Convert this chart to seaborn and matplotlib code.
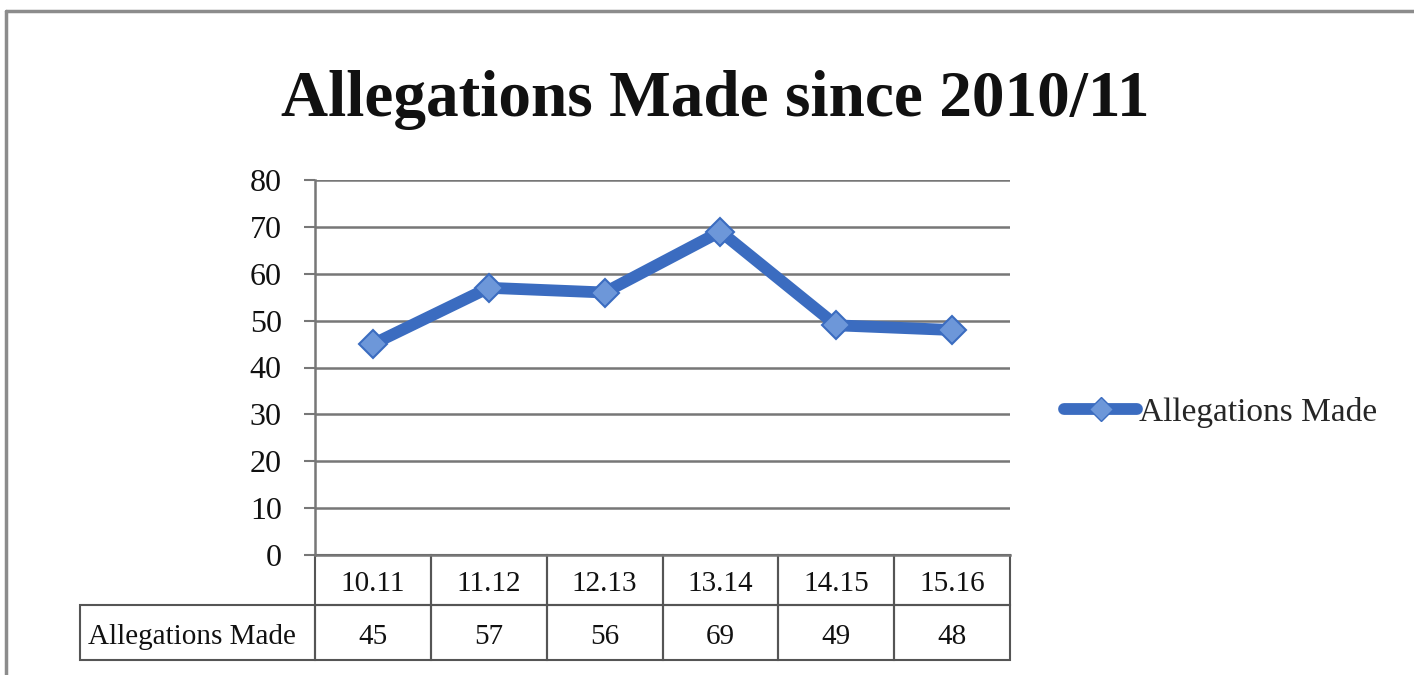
import matplotlib
matplotlib.use("Agg")
import matplotlib.pyplot as plt
import matplotlib.transforms as mtransforms
import seaborn as sns
import pandas as pd
from matplotlib.patches import Rectangle
from matplotlib.lines import Line2D

categories = ["10.11", "11.12", "12.13", "13.14", "14.15", "15.16"]
allegations = [45, 57, 56, 69, 49, 48]
series_name = "Allegations Made"
title = "Allegations Made since 2010/11"
yticks = [0, 10, 20, 30, 40, 50, 60, 70, 80]

sns.set_theme(style="white")
plt.rcParams["font.family"] = ["Liberation Serif", "DejaVu Serif"]

W, H = 1414, 675
fig = plt.figure(figsize=(W / 100, H / 100), dpi=100)
fig.patch.set_facecolor("white")

L, R, T, B = 315, 1010, 180, 555
ax = fig.add_axes([L / W, 1 - B / H, (R - L) / W, (B - T) / H])

LINE_C = "#3b6cc0"
MARK_C = "#6d97d9"

df = pd.DataFrame({"cat": categories, "val": allegations, "series": series_name})
df["x"] = range(len(categories))

sns.lineplot(data=df, x="x", y="val", ax=ax, color=LINE_C, linewidth=8.5,
             marker="D", markersize=14, markerfacecolor=MARK_C,
             markeredgecolor=LINE_C, markeredgewidth=1.5,
             legend=False, zorder=5)

ax.set_xlim(-0.5, len(categories) - 0.5)
ax.set_ylim(0, 80)
ax.set_yticks(yticks)
ax.set_yticklabels([str(t) for t in yticks], fontsize=23)
ax.set_xticks([])
ax.set_xlabel("")
ax.set_ylabel("")
GRID_C = "#777777"
for y in yticks[1:]:
    ax.axhline(y, color=GRID_C, linewidth=1.8, zorder=1)
for s in ["top", "right"]:
    ax.spines[s].set_visible(False)
for s in ["left", "bottom"]:
    ax.spines[s].set_color(GRID_C)
    ax.spines[s].set_linewidth(1.8)
ax.tick_params(axis="y", which="both", left=True, length=8, width=1.5,
               color=GRID_C, pad=16, labelcolor="#111111")

fig.text(715 / W, 1 - 100 / H, title, fontsize=47, fontweight="bold",
         ha="center", va="center", color="#111111")

# data table drawn below the axes
axh = B - T
col_px = (R - L) / len(categories)
trans = mtransforms.blended_transform_factory(ax.transData, ax.transAxes)
hdr_h = 50 / axh
row_h = 55 / axh
txt_shift = 4 / axh
label_left = -0.5 - (L - 80) / col_px
EDGE_C = "#555555"
TXT_C = "#111111"
FS = 21
for j, c in enumerate(categories):
    ax.add_patch(Rectangle((j - 0.5, -hdr_h), 1, hdr_h, transform=trans,
                           fill=False, edgecolor=EDGE_C, linewidth=1.5, clip_on=False))
    ax.text(j, -hdr_h / 2 - txt_shift, c, transform=trans, ha="center", va="center",
            fontsize=FS, color=TXT_C, clip_on=False)
for j, v in enumerate(allegations):
    ax.add_patch(Rectangle((j - 0.5, -hdr_h - row_h), 1, row_h, transform=trans,
                           fill=False, edgecolor=EDGE_C, linewidth=1.5, clip_on=False))
    ax.text(j, -hdr_h - row_h / 2 - txt_shift, str(v), transform=trans, ha="center",
            va="center", fontsize=FS, color=TXT_C, clip_on=False)
ax.add_patch(Rectangle((label_left, -hdr_h - row_h), -0.5 - label_left, row_h,
                       transform=trans, fill=False, edgecolor=EDGE_C, linewidth=1.5,
                       clip_on=False))
ax.text(label_left + 8 / col_px, -hdr_h - row_h / 2 - txt_shift, series_name,
        transform=trans, ha="left", va="center", fontsize=FS, color=TXT_C, clip_on=False)

# legend
handle = Line2D([], [], color=LINE_C, linewidth=8.5, marker="D", markersize=12,
                markerfacecolor=MARK_C, markeredgecolor=LINE_C)
fig.legend([handle], [series_name], loc="center left",
           bbox_to_anchor=(1064 / W, 1 - 412 / H), frameon=False,
           fontsize=24, handlelength=2.2, handletextpad=0.05, borderaxespad=0,
           borderpad=0)

# outer frame
fig.add_artist(Line2D([6 / W, 1], [1 - 11 / H, 1 - 11 / H], color="#8c8c8c",
                      linewidth=2.5, transform=fig.transFigure))
fig.add_artist(Line2D([6 / W, 6 / W], [1 - 11 / H, 0], color="#8c8c8c",
                      linewidth=2.5, transform=fig.transFigure))

fig.savefig("out.png", dpi=100, facecolor="white")
